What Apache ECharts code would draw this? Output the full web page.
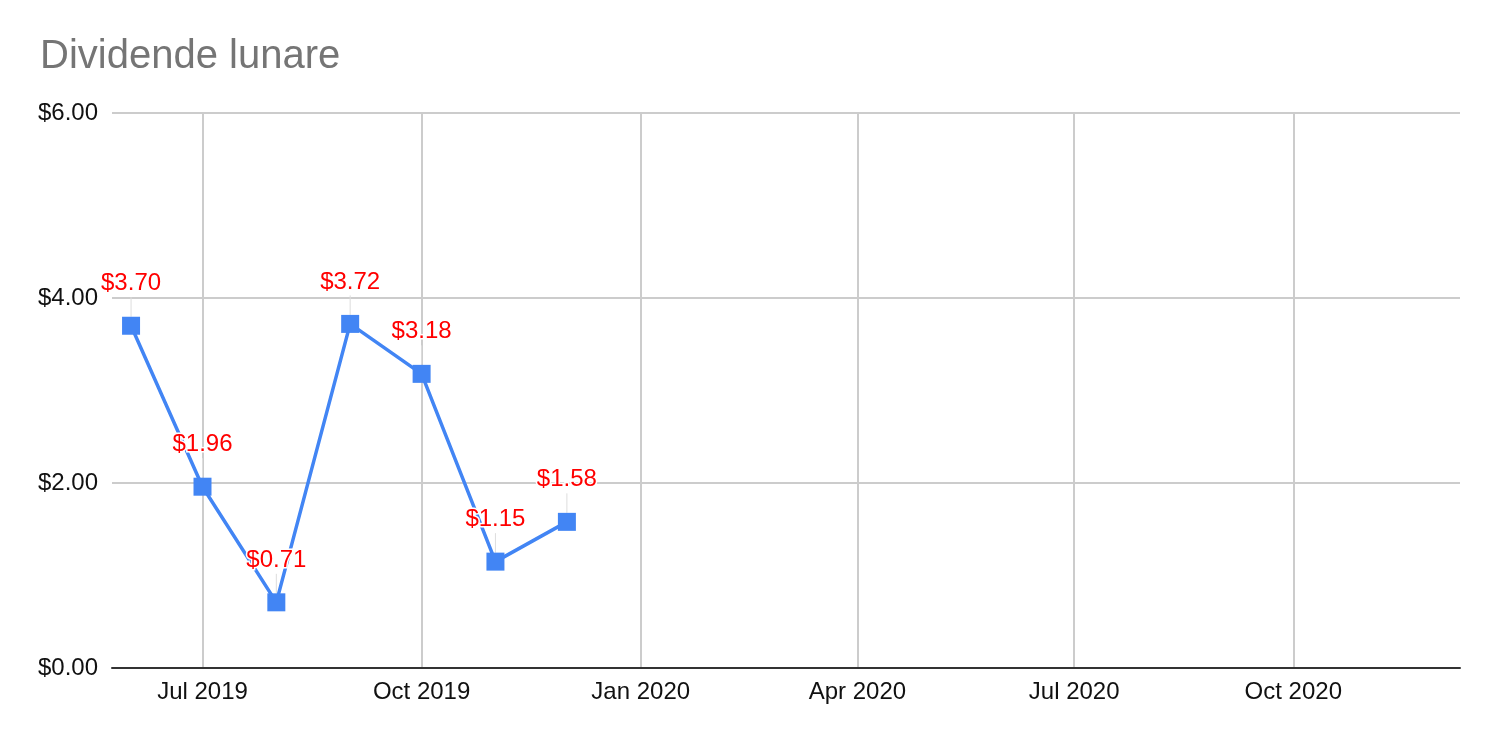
<!DOCTYPE html>
<html>
<head>
<meta charset="utf-8">
<title>Dividende lunare</title>
<script src="https://cdn.jsdelivr.net/npm/echarts@6/dist/echarts.min.js"></script>
<style>
  html, body { margin: 0; padding: 0; background: #fff; }
  #chart { width: 1496px; height: 742px; }
</style>
</head>
<body>
<div id="chart"></div>
<script>
var months = ['2019-06-01', '2019-07-01', '2019-08-01', '2019-09-01', '2019-10-01', '2019-11-01', '2019-12-01']
  , dividends = [3.70, 1.96, 0.71, 3.72, 3.18, 1.15, 1.58]
  , tickDates = ['2019-07-01', '2019-10-01', '2020-01-01', '2020-04-01', '2020-07-01', '2020-10-01']
  , tickLabels = ['Jul 2019', 'Oct 2019', 'Jan 2020', 'Apr 2020', 'Jul 2020', 'Oct 2020']
  , xMin = '2019-05-24'
  , xMax = '2020-12-10';

var font = 'Arial, "Liberation Sans", sans-serif';
function toTime(d) { return Date.parse(d + 'T00:00:00Z'); }
var tickTimes = tickDates.map(toTime);

var chart = echarts.init(document.getElementById('chart'), null, {renderer: 'canvas'});
var option = {
  animation: false,
  title: {
    text: 'Dividende lunare',
    left: 35,
    top: 32,
    textStyle: {
      fontFamily: font,
      fontSize: 40,
      fontWeight: 'normal',
      color: '#757575'
    }
  },
  grid: {
    left: 112,
    right: 36,
    top: 113,
    bottom: 74
  },
  xAxis: {
    // timestamps on a value scale, ticks only at the quarter starts
    type: 'value',
    min: toTime(xMin),
    max: toTime(xMax),
    axisLine: {
      lineStyle: { color: '#333', width: 2 }
    },
    axisTick: { show: false, customValues: tickTimes },
    splitLine: {
      show: true,
      lineStyle: { color: '#cccccc', width: 2 }
    },
    axisLabel: {
      customValues: tickTimes,
      margin: 12,
      fontFamily: font,
      fontSize: 24,
      color: '#111',
      formatter: function(v) {
        var i = tickTimes.indexOf(v);
        return i >= 0 ? tickLabels[i] : '';
      }
    }
  },
  yAxis: {
    type: 'value',
    min: 0,
    max: 6,
    interval: 2,
    axisLine: { show: false },
    axisTick: { show: false },
    splitLine: {
      lineStyle: { color: '#cccccc', width: 2 }
    },
    axisLabel: {
      margin: 14,
      fontFamily: font,
      fontSize: 24,
      color: '#111',
      formatter: function(v) { return '$' + v.toFixed(2); }
    }
  },
  series: [{
    type: 'line',
    data: months.map(function(m, i) { return [toTime(m), dividends[i]]; }),
    symbol: 'rect',
    symbolSize: 18,
    color: '#4285f4',
    lineStyle: { width: 3.5, color: '#4285f4' },
    label: {
      show: true,
      position: 'top',
      distance: 4,
      fontFamily: font,
      fontSize: 24,
      color: '#ff0000',
      textBorderColor: '#fff',
      textBorderWidth: 3,
      formatter: function(p) { return '$' + p.value[1].toFixed(2); }
    },
    labelLayout: { dy: -17 },
    labelLine: {
      show: true,
      lineStyle: { color: '#dddddd', width: 1 }
    }
  }]
};
chart.setOption(option);
</script>
</body>
</html>
